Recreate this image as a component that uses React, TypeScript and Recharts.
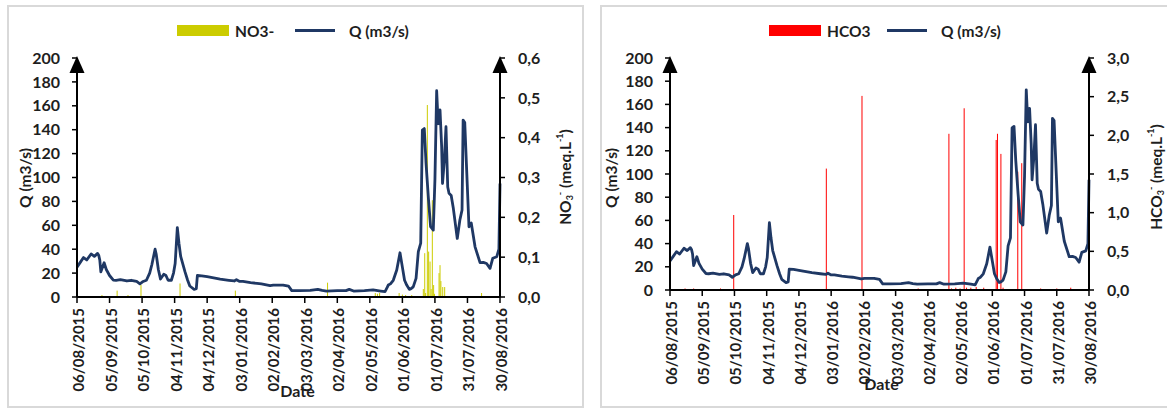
import React from "react";
import { ComposedChart, Bar, Line, XAxis, YAxis, Legend } from "recharts";

// --------------------
// Data (days since 06/08/2015)
// --------------------
const qDays = [
  0, 3, 6, 9, 13, 16, 19, 20, 21, 22, 25, 27, 30, 33.5, 36, 40, 46, 50, 55, 58, 61, 64, 67, 69, 72, 73,
  75, 77, 80, 82, 84, 87, 89, 90.5, 92.5, 94, 95.6, 99.6, 102, 104, 108, 110, 111, 115, 120, 132, 140,
  145, 147, 150, 153, 160, 166, 170, 178, 181, 190, 195, 198, 205, 215, 222, 226, 230, 240, 248, 251,
  255, 265, 273, 280, 284, 286, 287, 289, 291.6, 294.8, 297.8, 300, 302, 304, 306.4, 308, 310, 312.6,
  314.7, 316.9, 318.4, 320.2, 321.8, 324, 326, 328.5, 330, 331.6, 333, 334.7, 336.2, 337, 338.7, 340.2,
  341.8, 343, 345, 347, 350.6, 353, 355, 356, 357.5, 359, 361.4, 363.5, 367, 371.6, 374.6, 377.6, 380.8,
  383.3, 387, 389, 390,
];
const qValues = [
  25, 29, 33, 31, 36, 34, 36.5, 35, 31, 21, 28.7, 23, 18, 14.2, 14, 14.5, 13.4, 14, 13, 11, 13, 14, 20, 27,
  40, 36, 23, 15, 19, 18, 14, 14, 20, 28, 58, 45, 34, 21, 14, 9.2, 6.4, 7, 18, 17.7, 17, 15, 14, 13.4,
  14.5, 13, 13, 12, 11.4, 11, 9.5, 10, 10, 9.2, 5.3, 5.3, 5.5, 6.4, 5.5, 5, 5.3, 5.3, 6.4, 5, 5.3, 5.9, 5,
  4.5, 8, 10, 11, 14, 22.6, 37, 25, 14, 10, 6.4, 7, 8.5, 15.6, 38, 45, 139.7, 141, 112, 82.6, 58.8, 56,
  98, 172.6, 145, 156.5, 125.8, 95, 114.6, 142.5, 92, 86.8, 85, 74, 49, 64.4, 72.8, 148, 146, 112, 58.8,
  62, 42, 28.7, 29, 28, 24, 32.4, 33.7, 40, 95,
];

const no3Days = [
  23, 37, 47, 59, 95, 146, 231, 275, 277, 279, 297, 300, 303, 308.6, 319.3, 320.6, 321.4, 323, 324.2,
  325.5, 326.5, 327.6, 328.8, 329.6, 333.8, 334.7, 335.5, 337.2, 339, 373,
];
const no3Values = [
  0.005, 0.016, 0.005, 0.03, 0.034, 0.016, 0.036, 0.01, 0.008, 0.01, 0.01, 0.006, 0.005, 0.005, 0.02,
  0.11, 0.01, 0.482, 0.114, 0.089, 0.02, 0.243, 0.03, 0.008, 0.06, 0.08, 0.04, 0.025, 0.025, 0.01,
];

const hco3Days = [
  14, 22, 47, 59.3, 145.5, 178.7, 231, 259.6, 262, 266, 270, 273.8, 276, 280, 285, 292, 303.6, 304.8,
  308, 310, 323.7, 327.4, 345, 360, 373,
];
const hco3Values = [
  0.02, 0.02, 0.02, 0.97, 1.57, 2.51, 0.02, 2.02, 0.02, 0.03, 0.02, 2.35, 0.03, 0.03, 0.04, 0.03, 1.94,
  2.02, 1.76, 0.03, 1.53, 1.64, 0.02, 0.02, 0.03,
];

const tickDays = [0, 30, 60, 90, 120, 150, 180, 210, 240, 270, 300, 330, 360, 390];
const tickLabels = [
  "06/08/2015", "05/09/2015", "05/10/2015", "04/11/2015", "04/12/2015", "03/01/2016", "02/02/2016",
  "03/03/2016", "02/04/2016", "02/05/2016", "01/06/2016", "01/07/2016", "31/07/2016", "30/08/2016",
];
const qTicks = [0, 20, 40, 60, 80, 100, 120, 140, 160, 180, 200];
const no3Ticks = [0, 0.1, 0.2, 0.3, 0.4, 0.5, 0.6];
const hco3Ticks = [0, 0.5, 1, 1.5, 2, 2.5, 3];

const FONT = "Lato, 'Open Sans', sans-serif";
const NAVY = "#1f3864";
const TXT = "#1e1e1e";

function buildData(ionDays: number[], ionValues: number[], key: string) {
  const rows = new Map<number, any>();
  qDays.forEach((d, i) => rows.set(d, { day: d, q: qValues[i] }));
  ionDays.forEach((d, i) => {
    const row = rows.get(d) || { day: d };
    row[key] = ionValues[i];
    rows.set(d, row);
  });
  return Array.from(rows.values()).sort((a, b) => a.day - b.day);
}

const comma = (v: number) => v.toFixed(1).replace(".", ",");

// --------------------
// Small pieces
// --------------------
function DateTick({ x, y, payload }: any) {
  const label = tickLabels[tickDays.indexOf(payload.value)];
  return (
    <text
      transform={`translate(${x + 1},${y + 3}) rotate(-90)`}
      textAnchor="end"
      dominantBaseline="central"
      fontSize={15}
      fontWeight={700}
      fill={TXT}
    >
      {label}
    </text>
  );
}

// thin spike bar: keeps the scale's x/y/height, only fixes the width
function Spike(props: any) {
  const { x, y, width, height, fill, spikeW } = props;
  if (!height || height <= 0 || isNaN(y)) return null;
  return <rect x={x + width / 2 - spikeW / 2} y={y} width={spikeW} height={height} fill={fill} />;
}

function makeLegend(left: number) {
  return (props: any) => {
    const items = props.payload || [];
    return (
      <div style={{ position: "relative", height: 22, width: "100%", fontFamily: FONT }}>
        {items.map((it: any) =>
          it.type === "line" ? (
            <React.Fragment key={it.value}>
              <div style={{ position: "absolute", left: left + 118, top: 9, width: 40, height: 3, background: it.color }} />
              <span style={{ position: "absolute", left: left + 172, top: 0, fontSize: 15.5, fontWeight: 700, lineHeight: "22px", color: TXT, whiteSpace: "nowrap" }}>
                {it.value}
              </span>
            </React.Fragment>
          ) : (
            <React.Fragment key={it.value}>
              <div style={{ position: "absolute", left, top: 5, width: 52, height: 11, background: it.color }} />
              <span style={{ position: "absolute", left: left + 58, top: 0, fontSize: 15.5, fontWeight: 700, lineHeight: "22px", color: TXT, whiteSpace: "nowrap" }}>
                {it.value}
              </span>
            </React.Fragment>
          )
        )}
      </div>
    );
  };
}

function QTitle({ x, y }: { x: number; y: number }) {
  return (
    <text transform={`translate(${x},${y}) rotate(-90)`} textAnchor="middle" dominantBaseline="central" fontSize={15.5} fontWeight={700} fill={TXT}>
      Q (m3/s)
    </text>
  );
}

function IonTitle({ x, y, ion }: { x: number; y: number; ion: string }) {
  return (
    <text transform={`translate(${x},${y}) rotate(-90)`} textAnchor="middle" dominantBaseline="central" fontSize={15.5} fontWeight={700} fill={TXT}>
      {ion}
      <tspan fontSize={9} dy={4}>3</tspan>
      <tspan fontSize={9} dy={-10}>-</tspan>
      <tspan dy={6}> (meq.L</tspan>
      <tspan fontSize={9} dy={-6}>-1</tspan>
      <tspan dy={6}>)</tspan>
    </text>
  );
}

function Arrows({ xs, top }: { xs: number[]; top: number }) {
  return (
    <svg width={1167} height={410} style={{ position: "absolute", left: 0, top: 0, pointerEvents: "none" }}>
      {xs.map((x) => (
        <polygon key={x} points={`${x},${top} ${x - 7.5},${top + 17} ${x + 7.5},${top + 17}`} fill="#000" />
      ))}
    </svg>
  );
}

// --------------------
// One panel
// --------------------
function Panel({
  left,
  width,
  plotBottom,
  data,
  ionKey,
  ionName,
  ionColor,
  ionBarW,
  ionTicks,
  ionMax,
  ionTitle,
  leftAxisW,
  rightAxisW,
  qTitleX,
  ionTitleDx,
  dateDx,
}: any) {
  const height = 410;
  return (
    <div style={{ position: "absolute", left, top: 0 }}>
      <ComposedChart width={width} height={height} data={data} margin={{ top: 58, right: 0, bottom: 0, left: 0 }}>
        <Legend
          verticalAlign="middle"
          align="center"
          layout="horizontal"
          wrapperStyle={{ top: 20, left: 0, width }}
          content={makeLegend(177)}
        />
        <XAxis
          dataKey="day"
          type="number"
          domain={[0, 390]}
          ticks={tickDays}
          interval={0}
          tick={<DateTick />}
          tickSize={6}
          height={height - plotBottom}
          axisLine={{ stroke: "#000", strokeWidth: 2 }}
          tickLine={{ stroke: "#000", strokeWidth: 1.5 }}
          label={{
            content: (p: any) => {
              const vb = p.viewBox;
              return (
                <text x={vb.x + vb.width / 2 + dateDx} y={vb.y + 100} textAnchor="middle" fontSize={16} fontWeight={700} fill={TXT}>
                  Date
                </text>
              );
            },
          }}
        />
        <YAxis
          yAxisId="q"
          orientation="left"
          width={leftAxisW}
          domain={[0, 200]}
          ticks={qTicks}
          interval={0}
          tickSize={5}
          tickMargin={12}
          tick={{ fontSize: 16, fontWeight: 700, fill: TXT }}
          axisLine={{ stroke: "#000", strokeWidth: 2 }}
          tickLine={{ stroke: "#000", strokeWidth: 1.5 }}
          label={{ content: () => <QTitle x={qTitleX} y={178} /> }}
        />
        <YAxis
          yAxisId="ion"
          orientation="right"
          width={rightAxisW}
          domain={[0, ionMax]}
          ticks={ionTicks}
          interval={0}
          tickSize={5}
          tickMargin={13}
          tickFormatter={comma}
          tick={{ fontSize: 16, fontWeight: 700, fill: TXT }}
          axisLine={{ stroke: "#000", strokeWidth: 2 }}
          tickLine={{ stroke: "#000", strokeWidth: 1.5 }}
          label={{
            content: (p: any) => <IonTitle x={p.viewBox.x + ionTitleDx} y={177} ion={ionTitle} />,
          }}
        />
        <Bar
          yAxisId="ion"
          dataKey={ionKey}
          name={ionName}
          fill={ionColor}
          shape={(p: any) => <Spike {...p} spikeW={ionBarW} />}
          isAnimationActive={false}
        />
        <Line
          yAxisId="q"
          dataKey="q"
          name="Q (m3/s)"
          type="linear"
          stroke={NAVY}
          strokeWidth={2.8}
          strokeLinejoin="round"
          dot={false}
          connectNulls
          isAnimationActive={false}
        />
      </ComposedChart>
    </div>
  );
}

export default function App() {
  const no3Data = buildData(no3Days, no3Values, "no3");
  const hco3Data = buildData(hco3Days, hco3Values, "hco3");

  return (
    <div style={{ position: "absolute", left: 0, top: 0, width: 1167, height: 410, background: "#fff", overflow: "hidden", fontFamily: FONT }}>
      <div style={{ position: "absolute", left: 7, top: 5, width: 577, height: 403, border: "2px solid #d9d9d9", boxSizing: "border-box" }} />
      <div style={{ position: "absolute", left: 600, top: 5, width: 580, height: 403, border: "2px solid #d9d9d9", boxSizing: "border-box" }} />

      <Panel
        left={0}
        width={584}
        plotBottom={297}
        data={no3Data}
        ionKey="no3"
        ionName="NO3-"
        ionColor="#cccc00"
        ionBarW={1}
        ionTicks={no3Ticks}
        ionMax={0.6}
        ionTitle="NO"
        leftAxisW={77}
        rightAxisW={84}
        qTitleX={25}
        ionTitleDx={65}
        dateDx={9}
      />
      <Panel
        left={592}
        width={575}
        plotBottom={290}
        data={hco3Data}
        ionKey="hco3"
        ionName="HCO3"
        ionColor="#ff0000"
        ionBarW={1}
        ionTicks={hco3Ticks}
        ionMax={3}
        ionTitle="HCO"
        leftAxisW={78}
        rightAxisW={78}
        qTitleX={19}
        ionTitleDx={67}
        dateDx={2}
      />
      <Arrows xs={[77, 500, 670, 1089]} top={56} />
    </div>
  );
}
